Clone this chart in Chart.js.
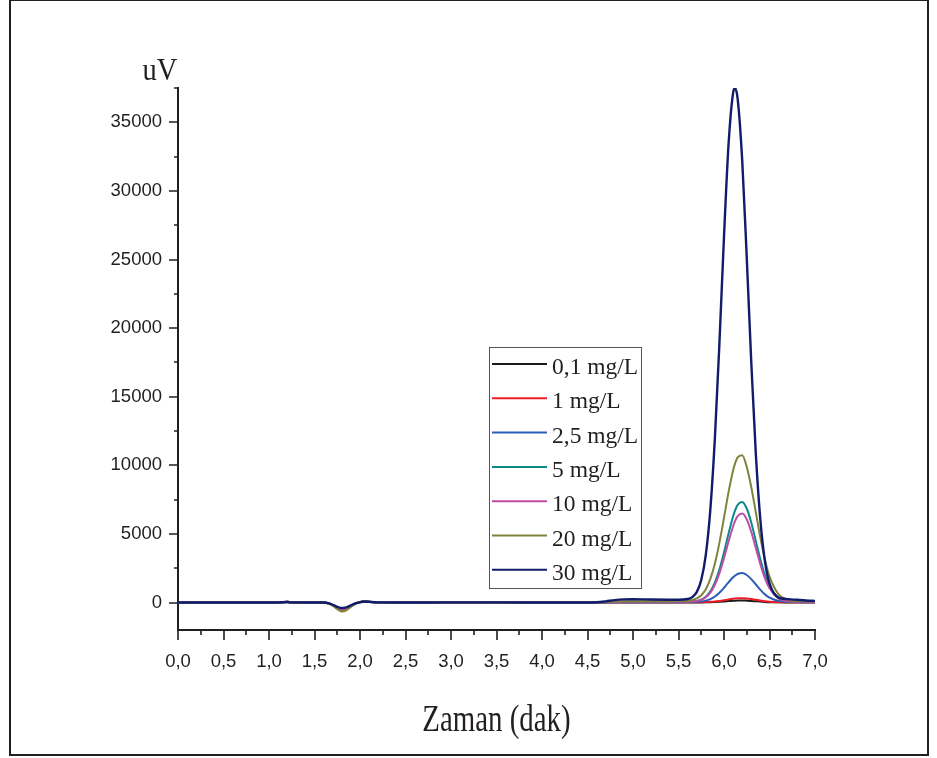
<!DOCTYPE html>
<html>
<head>
<meta charset="utf-8">
<script src="https://cdn.jsdelivr.net/npm/chart.js@4"></script>
<style>
  html, body { margin: 0; padding: 0; background: #fff; }
</style>
</head>
<body>
<canvas id="kromatogram" width="937" height="758"></canvas>
<script>
// retention time (min), shared by every run
const zaman = [0, 0.5, 1.0, 1.15, 1.2, 1.25, 1.5, 1.6, 1.65, 1.7, 1.75, 1.8, 1.85, 1.9, 1.95, 2.0, 2.05, 2.1, 2.2, 2.5, 3.0, 3.5, 4.0, 4.5, 4.6, 4.7, 4.8, 4.9, 5.0, 5.2, 5.4, 5.5,
  5.6, 5.65, 5.7, 5.75, 5.8, 5.85, 5.9, 5.95, 6.0, 6.05, 6.1, 6.12, 6.15, 6.2, 6.25, 6.3, 6.35, 6.4, 6.45, 6.5, 6.6, 6.7, 6.8, 6.9, 7.0];

// detector signal (uV) per standard
const c01 = [0, 0, 0, 20, 30, 10, 0, 0, -50, -180, -380, -480, -420, -240, -70, 30, 80, 50, 10, 0, 0, 0, 0, 0, 0, 0, 10, 10, 10, 10, 10, 10,
  10, 10, 11, 13, 17, 25, 37, 55, 79, 105, 130, 137, 146, 150, 140, 121, 95, 69, 47, 31, 15, 11, 10, 10, 8];
const c1 = [0, 0, 0, 20, 40, 10, 0, 0, -50, -190, -390, -500, -430, -250, -70, 30, 90, 50, 10, 0, 0, 0, 0, 0, 0, 10, 20, 20, 20, 20, 20, 20,
  20, 21, 23, 27, 35, 51, 78, 117, 168, 225, 276, 293, 311, 319, 300, 257, 202, 147, 100, 66, 31, 22, 20, 20, 15];
const c25 = [0, 0, 0, 20, 40, 10, 0, 0, -50, -190, -400, -520, -450, -260, -70, 30, 90, 50, 10, 0, 10, 0, 0, 0, 10, 20, 30, 30, 30, 30, 30, 30,
  32, 37, 50, 78, 139, 252, 440, 718, 1077, 1476, 1840, 1957, 2084, 2146, 2006, 1704, 1316, 926, 596, 354, 110, 43, 35, 30, 25];
const c5 = [0, 0, 0, 30, 50, 20, 0, 0, -50, -200, -420, -560, -480, -280, -80, 30, 100, 60, 20, 10, 10, 10, 0, 0, 10, 20, 40, 50, 50, 50, 50, 50,
  60, 75, 117, 216, 424, 814, 1462, 2420, 3656, 5030, 6284, 6686, 7124, 7335, 6854, 5815, 4477, 3135, 2000, 1167, 324, 95, 60, 50, 40];
const c10 = [0, 0, 0, 40, 70, 20, 0, 0, -50, -200, -400, -540, -470, -270, -80, 30, 110, 70, 20, 10, 10, 10, 0, 0, 10, 20, 40, 50, 50, 50, 50, 50,
  57, 72, 109, 197, 381, 725, 1297, 2144, 3236, 4449, 5558, 5913, 6300, 6487, 6061, 5144, 3962, 2776, 1772, 1037, 292, 90, 60, 50, 40];
const c20 = [0, 0, 0, 30, 60, 20, 0, 0, -60, -230, -480, -650, -560, -320, -90, 40, 110, 70, 20, 10, 20, 10, 10, 10, 20, 40, 70, 90, 100, 100, 100, 110,
  130, 180, 300, 530, 975, 1720, 2840, 4370, 6180, 8050, 9630, 10110, 10585, 10740, 9880, 8400, 6560, 4710, 3120, 1910, 600, 200, 120, 100, 80];
const c30 = [0, 0, 0, 20, 40, 10, 0, 0, -40, -160, -310, -400, -350, -200, -60, 20, 80, 50, 10, 0, 10, 10, 0, 0, 20, 90, 180, 230, 240, 220, 210, 210,
  260, 395, 760, 1640, 3470, 6790, 12000, 18960, 26680, 33400, 37150, 37500, 36710, 32240, 25150, 17460, 10800, 5990, 3000, 1400, 360, 250, 200, 150, 120];

const etiketler = ['0,1 mg/L', '1 mg/L', '2,5 mg/L', '5 mg/L', '10 mg/L', '20 mg/L', '30 mg/L'];
const renkler = ['#1a1a1a', '#ee1c25', '#2a5cb8', '#0b8a88', '#c14aa6', '#80843a', '#121c6c'];
const seriler = [c01, c1, c25, c5, c10, c20, c30];

const xTikleri = [0, 0.25, 0.5, 0.75, 1, 1.25, 1.5, 1.75, 2, 2.25, 2.5, 2.75, 3, 3.25, 3.5, 3.75, 4, 4.25, 4.5, 4.75, 5, 5.25, 5.5, 5.75, 6, 6.25, 6.5, 6.75, 7];
const yTikleri = [0, 2500, 5000, 7500, 10000, 12500, 15000, 17500, 20000, 22500, 25000, 27500, 30000, 32500, 35000, 37500];

const eksenRengi = '#231f20';

const datasets = seriler.map((s, i) => ({
  label: etiketler[i],
  data: s.map((v, j) => ({ x: zaman[j], y: v })),
  borderColor: renkler[i],
  borderWidth: i === 6 ? 2.4 : 2,
  pointRadius: 0,
  fill: false,
  cubicInterpolationMode: 'monotone',
  order: 6 - i
}));

// page frame around the figure
const cerceve = {
  id: 'cerceve',
  beforeDraw(chart) {
    const ctx = chart.ctx;
    ctx.save();
    ctx.fillStyle = '#fff';
    ctx.fillRect(0, 0, chart.width, chart.height);
    ctx.strokeStyle = eksenRengi;
    ctx.lineWidth = 2;
    ctx.strokeRect(10, 0, 918, 755);
    ctx.restore();
  }
};

// major / minor tick marks, axis titles and the boxed legend
const suslemeler = {
  id: 'suslemeler',
  afterDraw(chart) {
    const { ctx, chartArea, scales } = chart;
    const x = scales.x, y = scales.y;
    ctx.save();
    ctx.strokeStyle = eksenRengi;
    ctx.lineWidth = 1.6;
    ctx.beginPath();
    x.ticks.forEach(t => {
      const px = Math.round(x.getPixelForValue(t.value));
      ctx.moveTo(px, chartArea.bottom);
      ctx.lineTo(px, chartArea.bottom + (t.label ? 10 : 5));
    });
    y.ticks.forEach(t => {
      const py = Math.round(y.getPixelForValue(t.value));
      ctx.moveTo(chartArea.left, py);
      ctx.lineTo(chartArea.left - (t.label ? 9 : 4), py);
    });
    ctx.stroke();

    // axis titles, set in a narrow serif
    ctx.fillStyle = eksenRengi;
    ctx.textAlign = 'center';
    ctx.textBaseline = 'alphabetic';
    ctx.save();
    ctx.translate((chartArea.left + chartArea.right) / 2, 731);
    ctx.scale(0.76, 1);
    ctx.font = '38px "Liberation Serif"';
    ctx.fillText('Zaman (dak)', 0, 0);
    ctx.restore();
    ctx.save();
    ctx.translate(160, 80);
    ctx.scale(0.92, 1);
    ctx.font = '31px "Liberation Serif"';
    ctx.fillText('uV', 0, 0);
    ctx.restore();

    // legend
    const kx = 489, ky = 347, kw = 152, kh = 241;
    ctx.fillStyle = '#fff';
    ctx.fillRect(kx, ky, kw, kh);
    ctx.strokeStyle = '#555';
    ctx.lineWidth = 1;
    ctx.strokeRect(kx + 0.5, ky + 0.5, kw, kh);
    ctx.font = '23.5px "Liberation Serif"';
    ctx.textAlign = 'left';
    chart.data.datasets.forEach((ds, i) => {
      const ry = 364 + i * 34.3;
      ctx.strokeStyle = ds.borderColor;
      ctx.lineWidth = 2;
      ctx.beginPath();
      ctx.moveTo(492, ry);
      ctx.lineTo(547, ry);
      ctx.stroke();
      ctx.fillStyle = '#231f20';
      ctx.fillText(ds.label, 552, ry + 10);
    });
    ctx.restore();
  }
};

new Chart(document.getElementById('kromatogram'), {
  type: 'line',
  data: { datasets },
  options: {
    responsive: false,
    animation: false,
    devicePixelRatio: 1,
    layout: { padding: { left: 0, top: 88, right: 122, bottom: 0 } },
    plugins: { legend: { display: false }, tooltip: { enabled: false } },
    scales: {
      x: {
        type: 'linear',
        min: 0,
        max: 7,
        afterBuildTicks: s => { s.ticks = xTikleri.map(v => ({ value: v })); },
        afterFit: s => { s.height = 128; },
        grid: { display: false },
        border: { display: true, color: eksenRengi, width: 2 },
        ticks: {
          autoSkip: false,
          maxRotation: 0,
          padding: 13,
          color: eksenRengi,
          font: { family: 'Liberation Sans', size: 18.5 },
          callback: v => (Math.abs(v * 2 - Math.round(v * 2)) < 1e-6 ? v.toFixed(1).replace('.', ',') : '')
        }
      },
      y: {
        min: -2000,
        max: 37500,
        afterBuildTicks: s => { s.ticks = yTikleri.map(v => ({ value: v })); },
        afterFit: s => { s.width = 178; },
        grid: { display: false },
        border: { display: true, color: eksenRengi, width: 2 },
        ticks: {
          autoSkip: false,
          padding: 8,
          color: eksenRengi,
          font: { family: 'Liberation Sans', size: 18.5 },
          callback: v => (v % 5000 === 0 ? String(v) : '')
        }
      }
    }
  },
  plugins: [cerceve, suslemeler]
});
</script>
</body>
</html>
